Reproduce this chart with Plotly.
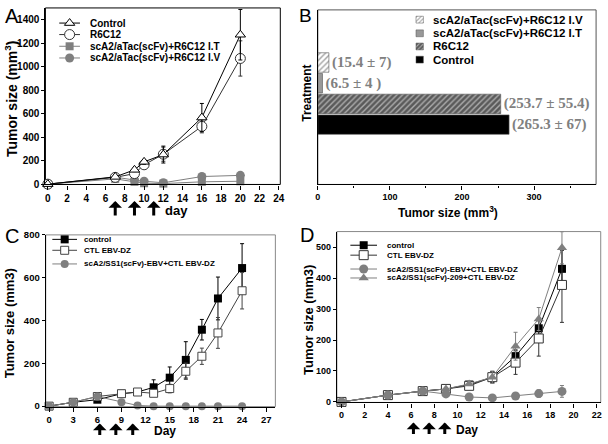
import plotly.graph_objects as go

W, H = 608, 444

# ---------------- data ----------------
# Panel A
days_A = [0, 7, 9, 10, 12, 16, 20]
control_A = [0, 62, 122, 190, 252, 567, 1272]
control_A_err = [0, 8, 15, 20, 72, 120, 215]
r6c12_A = [0, 58, 90, 165, 255, 492, 1070]
r6c12_A_err = [0, 8, 12, 15, 60, 55, 150]
it_A = [0, 45, 20, 8, 5, 20, 25]
iv_A = [0, 60, 35, 25, 12, 65, 75]
arrow_days_A = [7, 9, 11]
labels_A = ["Control", "R6C12", "scA2/aTac(scFv)+R6C12 I.T", "scA2/aTac(scFv)+R6C12 I.V"]

# Panel B
treatments_B = ["scA2/aTac(scFv)+R6C12 I.V", "scA2/aTac(scFv)+R6C12 I.T", "R6C12", "Control"]
means_B = [15.4, 6.5, 253.7, 265.3]
sds_B = ["7", "4 ", "55.4", "67"]

# Panel C
days_C = [0, 3, 6, 9, 11, 13, 15, 17, 19, 21, 24]
control_C = [0, 18, 30, 58, 66, 88, 133, 216, 357, 503, 645]
control_C_err = [0, 0, 4, 4, 4, 35, 50, 85, 48, 100, 114]
ctl_C = [0, 18, 45, 58, 66, 60, 82, 163, 233, 342, 539]
ctl_C_err = [0, 0, 4, 4, 4, 10, 20, 38, 38, 72, 85]
scfv_C = [0, 18, 45, 18, 3, 0, 0, 0, 0, 0, 0]
arrow_days_C = [6.3, 8.3, 10.4]
labels_C = ["control", "CTL EBV-DZ", "scA2/SS1(scFv)-EBV+CTL EBV-DZ"]

# Panel D
days_D = [0, 4, 7, 9, 11, 13, 15, 17, 19]
control_D = [0, 22, 35, 42, 56, 80, 148, 238, 430]
control_D_err = [0, 2, 3, 4, 5, 18, 20, 30, 60]
ctl_D = [0, 22, 35, 42, 52, 80, 127, 205, 378]
ctl_D_err = [0, 2, 3, 4, 5, 18, 38, 57, 121]
scfv_D = [0, 22, 35, 26, 16, 13, 19, 27, 34]
scfv_D_err = [0, 2, 3, 4, 3, 3, 5, 12, 19]
s209_D = [0, 22, 35, 42, 58, 80, 180, 268, 498]
s209_D_err = [0, 2, 3, 4, 5, 20, 45, 37, 52]
arrow_days_D = [6.2, 7.55, 8.9]
labels_D = ["control", "CTL EBV-DZ", "scA2/SS1(scFv)-EBV+CTL EBV-DZ", "scA2/SS1(scFv)-209+CTL EBV-DZ"]


# ---------------- helpers ----------------
def fx(p):
    return p / W


def fy(p):
    return 1 - p / H


def font(size, weight="bold", family="Liberation Sans", color="black"):
    return dict(family=family, size=size, color=color, weight=weight)


GRAY = "#7f7f7f"


def sty(lc, sym, size, fill, mlc, mlw=1):
    return dict(line=dict(color=lc, width=1),
                marker=dict(symbol=sym, size=size, color=fill, line=dict(color=mlc, width=mlw)))


st_A = [sty("black", "triangle-up", 9, "white", "black"),
        sty("#333", "circle", 10, "white", "#333"),
        sty(GRAY, "square", 8, GRAY, GRAY, 0),
        sty(GRAY, "circle", 9, GRAY, GRAY, 0)]
st_C = [sty("black", "square", 8, "black", "black", 0),
        sty("#444", "square", 8, "white", "#444"),
        sty(GRAY, "circle", 8, GRAY, GRAY, 0)]
st_D = [sty("black", "square", 8, "black", "black", 0),
        sty("#333", "square", 9, "white", "#333"),
        sty(GRAY, "circle", 9, GRAY, GRAY, 0),
        sty(GRAY, "triangle-up", 9, GRAY, GRAY, 0)]

fig = go.Figure()


def add_series(x, y, err, st, xa, ya):
    ey = dict(type="data", array=err, color=st["line"]["color"], thickness=1, width=2) if err else dict(visible=False)
    fig.add_trace(go.Scatter(x=x, y=y, mode="lines+markers", line=st["line"], marker=st["marker"],
                             error_y=ey, xaxis=xa, yaxis=ya, cliponaxis=False, hoverinfo="skip"))


# Panel A
add_series(days_A, it_A, None, st_A[2], "x", "y")
add_series(days_A, iv_A, None, st_A[3], "x", "y")
add_series(days_A, r6c12_A, r6c12_A_err, st_A[1], "x", "y")
add_series(days_A, control_A, control_A_err, st_A[0], "x", "y")

# Panel B
colors_B = ["white", "#999999", "#5a5a5a", "black"]
pshape_B = ["/", "", "/", ""]
pfg_B = ["#8c8c8c", "#999999", "#1a1a1a", "black"]
pbg_B = ["white", "#999999", "#5a5a5a", "black"]
text_B = [f"({m} \u00b1 {s})" for m, s in zip(means_B, sds_B)]
fig.add_trace(go.Bar(
    y=treatments_B, x=means_B, orientation="h", width=0.94,
    marker=dict(color=colors_B, line=dict(color="#555", width=0.6),
                pattern=dict(shape=pshape_B, fgcolor=pfg_B, bgcolor=pbg_B, size=4, solidity=0.35)),
    text=text_B, textposition="outside", constraintext="none", cliponaxis=False,
    textfont=font(15, family="Liberation Serif", color="#808080"),
    xaxis="x2", yaxis="y2", hoverinfo="skip"))

# Panel C
add_series(days_C, control_C, control_C_err, st_C[0], "x3", "y3")
add_series(days_C, ctl_C, ctl_C_err, st_C[1], "x3", "y3")
add_series(days_C, scfv_C, None, st_C[2], "x3", "y3")

# Panel D
add_series(days_D, control_D, control_D_err, st_D[0], "x4", "y4")
add_series(days_D, ctl_D, ctl_D_err, st_D[1], "x4", "y4")
add_series(days_D, scfv_D, scfv_D_err, st_D[2], "x4", "y4")
add_series(days_D, s209_D, s209_D_err, st_D[3], "x4", "y4")

annotations = []


# ---------- manual legends (glyphs on a pixel overlay axis) ----------
def legend_rows(styles, labels, rows, x0, x1, xt, fsize):
    for st, lab, yr in zip(styles, labels, rows):
        fig.add_trace(go.Scatter(x=[x0, x1], y=[yr, yr], mode="lines", line=st["line"],
                                 xaxis="x5", yaxis="y5", hoverinfo="skip", cliponaxis=False))
        fig.add_trace(go.Scatter(x=[(x0 + x1) / 2], y=[yr], mode="markers", marker=st["marker"],
                                 xaxis="x5", yaxis="y5", hoverinfo="skip", cliponaxis=False))
        annotations.append(dict(x=fx(xt), y=fy(yr), xref="paper", yref="paper", text=lab,
                                xanchor="left", yanchor="middle", showarrow=False, font=font(fsize)))


legend_rows(st_A, labels_A, [17.5, 29.3, 41.3, 53.3], 57, 78, 86, 10)
legend_rows(st_C, labels_C, [239.3, 250.5, 264.5], 50, 75, 80, 8)
legend_rows(st_D, labels_D, [245.3, 255.5, 269.7, 278.9], 352, 379, 387, 8)

rows_B = [14, 28, 41.5, 55]
fig.add_trace(go.Bar(y=rows_B, x=[7.5] * 4, base=[418.5] * 4, orientation="h", width=[7] * 4,
                     marker=dict(color=colors_B, line=dict(color="#555", width=0.5),
                                 pattern=dict(shape=pshape_B, fgcolor=pfg_B, bgcolor=pbg_B, size=3, solidity=0.35)),
                     xaxis="x5", yaxis="y5", hoverinfo="skip"))
for lab, yr in zip(treatments_B, rows_B):
    annotations.append(dict(x=fx(434), y=fy(yr), xref="paper", yref="paper", text=lab,
                            xanchor="left", yanchor="middle", showarrow=False, font=font(11.5)))


# ---------- arrows ----------
def arrows(days, xref, ytip, length):
    for d in days:
        annotations.append(dict(x=d, xref=xref, y=fy(ytip), yref="paper", ax=0, ay=length,
                                text="", showarrow=True, arrowhead=1, arrowsize=0.75,
                                arrowwidth=3, arrowcolor="black"))


arrows(arrow_days_A, "x", 200, 16)
arrows(arrow_days_C, "x3", 428, 13)
arrows(arrow_days_D, "x4", 427, 13)


def txt(x, y, s, size, angle=0, weight="bold", xanchor="center"):
    annotations.append(dict(x=fx(x), y=fy(y), xref="paper", yref="paper", text=s, textangle=angle,
                            xanchor=xanchor, yanchor="middle", showarrow=False, font=font(size, weight=weight)))


txt(176, 210, "day", 13)
txt(164, 436, "Day", 12)
txt(470, 435, "Day", 12)
txt(7.5, 95, "Tumor size (mm<sup>3</sup>)", 14, -90)
txt(451, 211, "Tumor size (mm<sup>3</sup>)", 12)
txt(308, 89, "Treatment", 12, -90)
txt(7.5, 325, "Tumor size (mm3)", 13, -90)
txt(309, 322, "Tumor size (mm3)", 13, -90)
txt(0, 10, "A", 20, weight="normal", xanchor="left")
txt(298, 10, "B", 19, weight="normal", xanchor="left")
txt(0, 236, "C", 20, weight="normal", xanchor="left")
txt(299, 235, "D", 20, weight="normal", xanchor="left")


# ---------- axes ----------
def xax(dom, rng, dtick, fsize, **kw):
    d = dict(domain=[fx(dom[0]), fx(dom[1])], range=rng, dtick=dtick, tick0=0, ticks="outside",
             ticklen=4, tickwidth=1, tickcolor="black", showline=True, linecolor="black", linewidth=1.2,
             showgrid=False, zeroline=False, tickfont=font(fsize))
    d.update(kw)
    return d


def yax(dom, rng, dtick, fsize, **kw):
    d = dict(domain=[fy(dom[1]), fy(dom[0])], range=rng, dtick=dtick, tick0=0, ticks="outside",
             ticklen=3, tickwidth=1, tickcolor="black", showline=True, linecolor="black", linewidth=1.2,
             showgrid=False, zeroline=False, tickfont=font(fsize))
    d.update(kw)
    return d


shapes = []
for xr, yr, col in [("x", "y", "black"), ("x2", "y2", "#555"), ("x3", "y3", "#888"), ("x4", "y4", "#888")]:
    shapes.append(dict(type="rect", xref=f"{xr} domain", yref=f"{yr} domain", x0=0, x1=1, y0=0, y1=1,
                       line=dict(color=col, width=1), layer="below"))

fig.update_layout(
    width=W, height=H, margin=dict(l=0, r=0, t=0, b=0),
    paper_bgcolor="white", plot_bgcolor="rgba(0,0,0,0)", showlegend=False,
    xaxis=xax((43, 281), [-0.25, 24.15], 2, 10, anchor="y"),
    yaxis=yax((2, 183), [-2.5, 1500], 200, 10, anchor="x"),
    xaxis2=xax((319, 601), [0, 386], 100, 9, anchor="y2",
               minor=dict(dtick=50, ticks="outside", ticklen=2, tickcolor="black")),
    yaxis2=yax((4, 183), [-2.89, 5.54], None, 9, anchor="x2", type="category",
               categoryorder="array", categoryarray=treatments_B[::-1],
               showticklabels=False, ticks=""),
    xaxis3=xax((43.3, 276), [-0.42, 28.14], 3, 9.5, anchor="y3"),
    yaxis3=yax((234.7, 410.8), [-2.3, 800], 200, 9.5, anchor="x3"),
    xaxis4=xax((338.3, 605.7), [-0.4, 22.34], 2, 9, anchor="y4"),
    yaxis4=yax((231.3, 406.5), [-1.6, 550.4], 100, 9, anchor="x4"),
    xaxis5=dict(domain=[0, 1], range=[0, W], visible=False, anchor="y5", fixedrange=True),
    yaxis5=dict(domain=[0, 1], range=[H, 0], visible=False, anchor="x5", fixedrange=True),
    annotations=annotations, shapes=shapes,
)

fig.write_html("out.html", config={"displayModeBar": False},
               post_script="document.body.style.margin='0';document.body.style.overflow='hidden';")
